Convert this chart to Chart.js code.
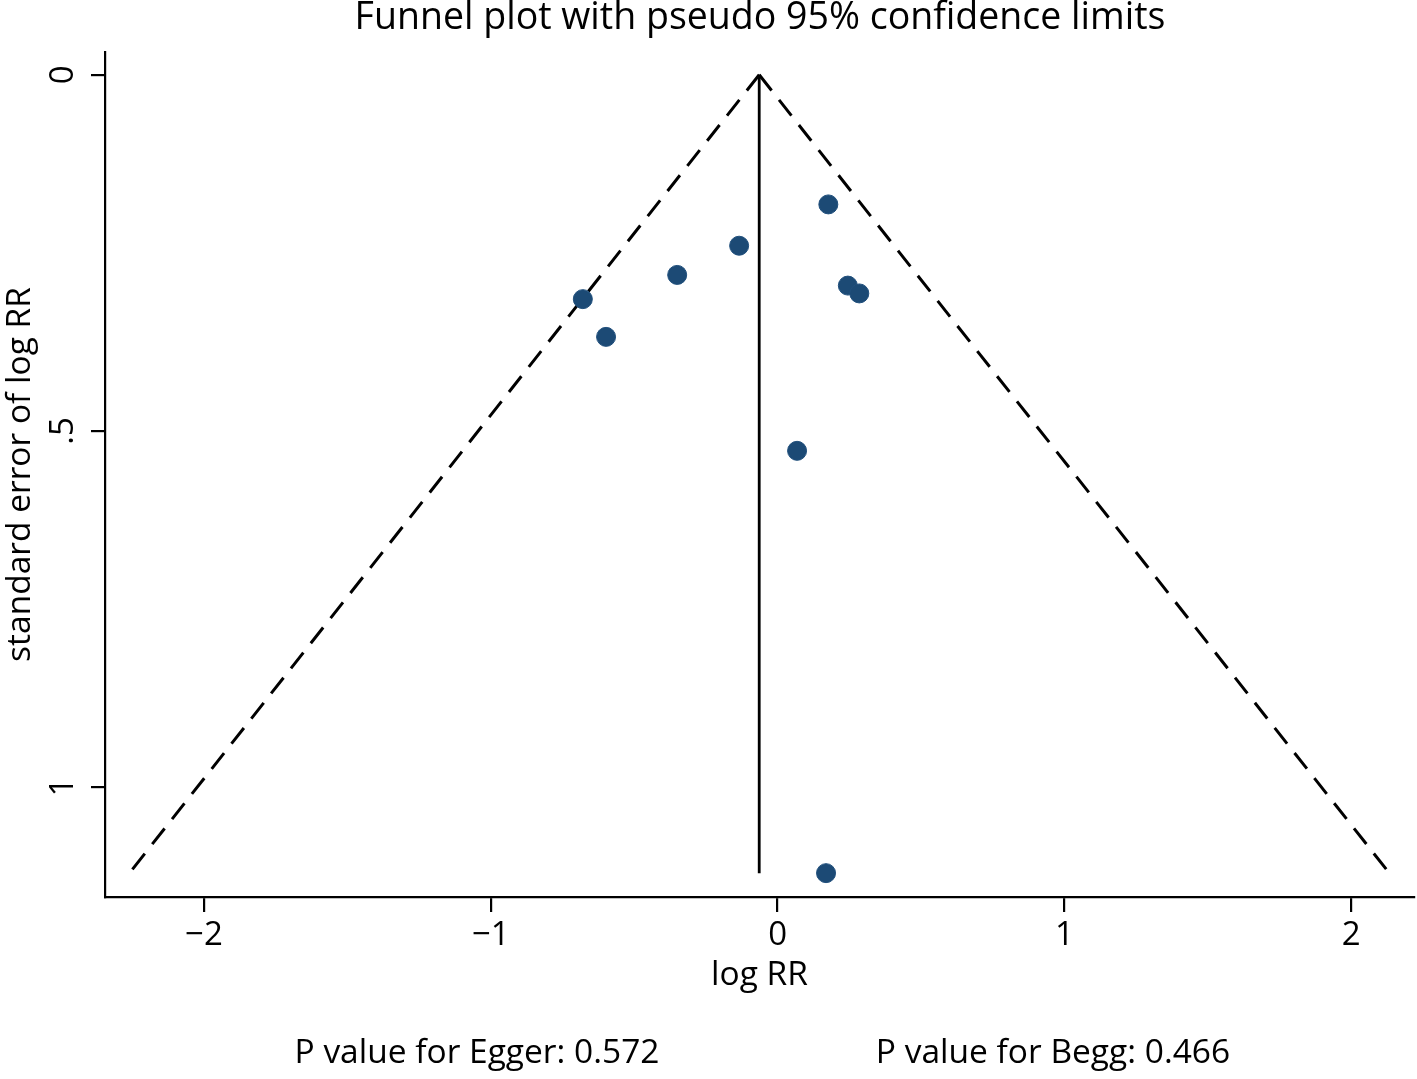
<!DOCTYPE html>
<html>
<head>
<meta charset="utf-8">
<script src="https://cdn.jsdelivr.net/npm/chart.js@4/dist/chart.umd.min.js"></script>
<style>
  html, body { margin: 0; padding: 0; background: #fff; }
  #wrap { width: 1417px; height: 1079px; position: relative; }
</style>
</head>
<body>
<div id="wrap"><canvas id="funnelChart"></canvas></div>
<script>
// study estimates
const logRR   = [0.177, -0.134, -0.350, -0.679, -0.598, 0.245, 0.285, 0.068, 0.169];
const seLogRR = [0.182, 0.240, 0.281, 0.315, 0.368, 0.296, 0.307, 0.528, 1.121];

// pooled estimate line and pseudo 95% limits (end points as drawn)
const pooledX   = [-0.064, -0.064];
const pooledY   = [0, 1.121];
const leftLimX  = [-0.064, -2.260];
const rightLimX = [-0.064, 2.133];
const limY      = [0, 1.121];

const xTicks = [-2, -1, 0, 1, 2];
const yTicks = [0, 0.5, 1];
const yTickLabels = ['0', '.5', '1'];

const FONT = "'Open Sans', sans-serif";

function pts(xs, ys) {
    return xs.map(function (x, i) { return { x: x, y: ys[i] }; });
}

const textPlugin = {
    id: 'textPlugin',
    afterDraw: function (chart) {
        const ctx = chart.ctx;
        ctx.save();
        ctx.fillStyle = '#000';
        ctx.textAlign = 'center';
        ctx.textBaseline = 'middle';
        ctx.font = '37.5px ' + FONT;
        ctx.fillText('Funnel plot with pseudo 95% confidence limits', 760, 18);
        ctx.font = '33.5px ' + FONT;
        ctx.fillText('P value for Egger: 0.572', 477, 1053);
        ctx.fillText('P value for Begg: 0.466', 1053, 1053);
        ctx.restore();
    }
};

const funnelData = {
    type: 'scatter',
    data: {
        datasets: [
            {
                label: 'studies',
                data: pts(logRR, seLogRR),
                backgroundColor: '#1c4a75',
                borderColor: '#204f7c',
                borderWidth: 1,
                pointRadius: 9.5,
                order: 0
            },
            {
                label: 'pooled',
                data: pts(pooledX, pooledY),
                showLine: true,
                borderColor: '#000',
                borderWidth: 2.8,
                pointRadius: 0,
                order: 1
            },
            {
                label: 'lower limit',
                data: pts(leftLimX, limY),
                showLine: true,
                borderColor: '#000',
                borderWidth: 3,
                borderDash: [20, 12],
                pointRadius: 0,
                order: 1
            },
            {
                label: 'upper limit',
                data: pts(rightLimX, limY),
                showLine: true,
                borderColor: '#000',
                borderWidth: 3,
                borderDash: [20, 12],
                pointRadius: 0,
                order: 1
            }
        ]
    },
    options: {
        responsive: true,
        maintainAspectRatio: false,
        animation: false,
        layout: { autoPadding: false, padding: { top: 52, right: 3, left: 0, bottom: 0 } },
        plugins: {
            legend: { display: false },
            tooltip: { enabled: false }
        },
        scales: {
            x: {
                type: 'linear',
                min: -2.345,
                max: 2.219,
                afterBuildTicks: function (axis) {
                    axis.ticks = xTicks.map(function (v) { return { value: v }; });
                },
                afterFit: function (axis) { axis.height = 182; },
                ticks: {
                    color: '#000',
                    font: { family: FONT, size: 33 },
                    padding: 4,
                    maxRotation: 0,
                    callback: function (v) { return v < 0 ? '\u2212' + Math.abs(v) : String(v); }
                },
                grid: { drawOnChartArea: false, drawTicks: true, tickLength: 15, color: '#000', lineWidth: 2.2 },
                border: { display: true, color: '#000', width: 2.2 },
                title: {
                    display: true,
                    text: 'log RR',
                    color: '#000',
                    font: { family: FONT, size: 33.5 },
                    padding: { top: 0, bottom: 83 }
                }
            },
            y: {
                type: 'linear',
                reverse: true,
                min: -0.032,
                max: 1.1545,
                afterBuildTicks: function (axis) {
                    axis.ticks = yTicks.map(function (v) { return { value: v }; });
                },
                afterFit: function (axis) { axis.width = 105; },
                ticks: {
                    color: '#000',
                    font: { family: FONT, size: 33 },
                    minRotation: 90,
                    maxRotation: 90,
                    crossAlign: 'center',
                    padding: 14,
                    callback: function (v) { return yTickLabels[yTicks.indexOf(v)]; }
                },
                grid: { drawOnChartArea: false, drawTicks: true, tickLength: 14, color: '#000', lineWidth: 2.2 },
                border: { display: true, color: '#000', width: 2.2 },
                title: {
                    display: true,
                    text: 'standard error of log RR',
                    color: '#000',
                    font: { family: FONT, size: 33.5 },
                    padding: { top: 0, bottom: 0 }
                }
            }
        }
    },
    plugins: [textPlugin]
};

new Chart(document.querySelector('#funnelChart'), funnelData);
</script>
</body>
</html>
